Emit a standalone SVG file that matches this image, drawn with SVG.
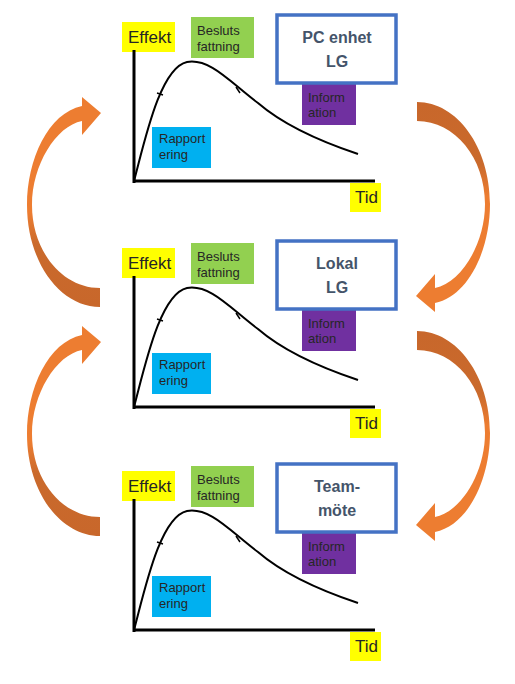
<svg xmlns="http://www.w3.org/2000/svg" width="515" height="684" viewBox="0 0 515 684">
<style>
.lbl{font-family:"Liberation Sans",Arial,sans-serif;font-size:13px;fill:#262626}
.ax{font-family:"Liberation Sans",Arial,sans-serif;font-size:17px;fill:#262626}
.ttl{font-family:"Liberation Sans",Arial,sans-serif;font-size:16px;font-weight:bold;fill:#44546A;text-anchor:middle}
.axis{stroke:#000;stroke-width:3;fill:none}
.curve{stroke:#000;stroke-width:2;fill:none}
.tick{stroke:#000;stroke-width:1.5}
.box{fill:#fff;stroke:#4472C4;stroke-width:3.5}
</style>
<defs>
<linearGradient id="og" x1="0" y1="0" x2="0" y2="1">
<stop offset="0" stop-color="#ED7D31"/>
<stop offset="0.55" stop-color="#ED7D31"/>
<stop offset="0.7" stop-color="#CA6A2C"/>
<stop offset="1" stop-color="#C8672B"/>
</linearGradient>
<path id="arr" fill="url(#og)" d="M100,307 C60,307 27,262 27,205 C27,160 48,113 82,106 L82,97 L101,113 L82,135 L82,121 C56,126 32,165 32,205 C32,251 62,288 100,288 Z"/>
</defs>

<g id="connectors">
<use href="#arr"/>
<use href="#arr" transform="rotate(180 258.5 204.5)"/>
<use href="#arr" transform="translate(0 229)"/>
<use href="#arr" transform="translate(0 229) rotate(180 258.5 204.5)"/>
</g>

<g id="panel1">
<rect x="122" y="22" width="53" height="30" fill="#FFFF00"/>
<text class="ax" x="128" y="43">Effekt</text>
<rect x="191" y="17" width="63" height="41" fill="#92D050"/>
<text class="lbl" x="197" y="35">Besluts</text>
<text class="lbl" x="197" y="51">fattning</text>
<rect x="302" y="80" width="54" height="45" fill="#7030A0"/>
<text class="lbl" x="308" y="102">Inform</text>
<text class="lbl" x="308" y="117">ation</text>
<rect class="box" x="277" y="15" width="119" height="68"/>
<text class="ttl" x="337" y="43">PC enhet</text>
<text class="ttl" x="337" y="67">LG</text>
<rect x="152" y="127" width="59" height="41" fill="#00B0F0"/>
<text class="lbl" x="159" y="143">Rapport</text>
<text class="lbl" x="159" y="159">ering</text>
<path class="axis" d="M134,50 V183 M133,181 H375"/>
<path class="curve" d="M134,181 C145,140 160,68 187,62 C210,58 230,82 258,103 C280,122 310,138 358,154"/>
<path class="tick" d="M157,93 L163,95 M236,87 L240,93"/>
<rect x="350" y="183" width="31" height="29" fill="#FFFF00"/>
<text class="ax" x="355" y="203">Tid</text>
</g>

<g id="panel2" transform="translate(0 226)">
<rect x="122" y="22" width="53" height="30" fill="#FFFF00"/>
<text class="ax" x="128" y="43">Effekt</text>
<rect x="191" y="17" width="63" height="41" fill="#92D050"/>
<text class="lbl" x="197" y="35">Besluts</text>
<text class="lbl" x="197" y="51">fattning</text>
<rect x="302" y="80" width="54" height="45" fill="#7030A0"/>
<text class="lbl" x="308" y="102">Inform</text>
<text class="lbl" x="308" y="117">ation</text>
<rect class="box" x="277" y="15" width="119" height="68"/>
<text class="ttl" x="337" y="43">Lokal</text>
<text class="ttl" x="337" y="67">LG</text>
<rect x="152" y="127" width="59" height="41" fill="#00B0F0"/>
<text class="lbl" x="159" y="143">Rapport</text>
<text class="lbl" x="159" y="159">ering</text>
<path class="axis" d="M134,50 V183 M133,181 H375"/>
<path class="curve" d="M134,181 C145,140 160,68 187,62 C210,58 230,82 258,103 C280,122 310,138 358,154"/>
<path class="tick" d="M157,93 L163,95 M236,87 L240,93"/>
<rect x="350" y="183" width="31" height="29" fill="#FFFF00"/>
<text class="ax" x="355" y="203">Tid</text>
</g>

<g id="panel3" transform="translate(0 449)">
<rect x="122" y="22" width="53" height="30" fill="#FFFF00"/>
<text class="ax" x="128" y="43">Effekt</text>
<rect x="191" y="17" width="63" height="41" fill="#92D050"/>
<text class="lbl" x="197" y="35">Besluts</text>
<text class="lbl" x="197" y="51">fattning</text>
<rect x="302" y="80" width="54" height="45" fill="#7030A0"/>
<text class="lbl" x="308" y="102">Inform</text>
<text class="lbl" x="308" y="117">ation</text>
<rect class="box" x="277" y="15" width="119" height="68"/>
<text class="ttl" x="337" y="43">Team-</text>
<text class="ttl" x="337" y="67">möte</text>
<rect x="152" y="127" width="59" height="41" fill="#00B0F0"/>
<text class="lbl" x="159" y="143">Rapport</text>
<text class="lbl" x="159" y="159">ering</text>
<path class="axis" d="M134,50 V183 M133,181 H375"/>
<path class="curve" d="M134,181 C145,140 160,68 187,62 C210,58 230,82 258,103 C280,122 310,138 358,154"/>
<path class="tick" d="M157,93 L163,95 M236,87 L240,93"/>
<rect x="350" y="183" width="31" height="29" fill="#FFFF00"/>
<text class="ax" x="355" y="203">Tid</text>
</g>
</svg>
